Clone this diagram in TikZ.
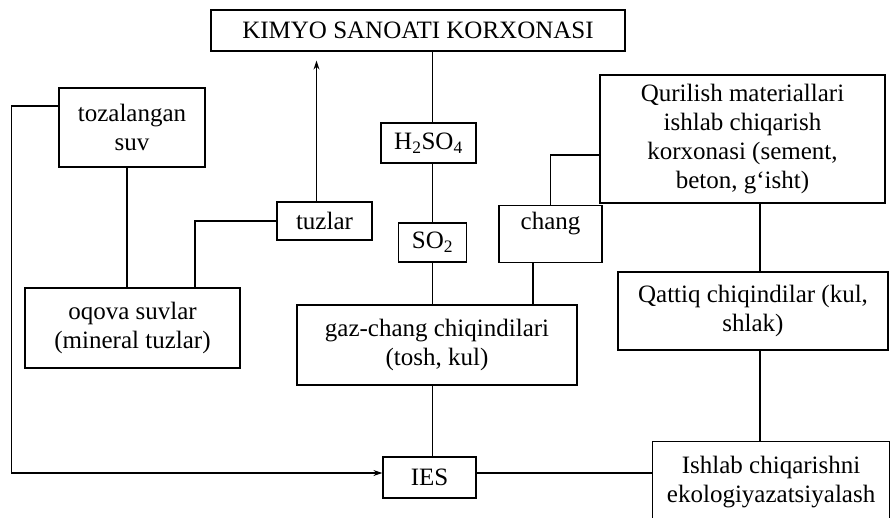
\documentclass[tikz,border=0pt]{standalone}
\usepackage{fontspec}
\setmainfont{Liberation Serif}
\usetikzlibrary{arrows.meta,calc}
\begin{document}
\begin{tikzpicture}[x=1pt,y=-1pt,
  box/.style={draw,line width=1.2pt,rectangle,inner sep=0pt,align=center,font=\fontsize{25}{29}\selectfont},
  conn/.style={line width=1.2pt},
  arr/.style={line width=1.2pt,-{Stealth[length=9pt,width=6pt]}}]
\clip (0,0) rectangle (891,517);
\fill[white] (0,0) rectangle (891,517);
\node[box,minimum width=414pt,minimum height=41pt] (kimyo) at (418,30.5) {KIMYO SANOATI KORXONASI};
\node[box,minimum width=146pt,minimum height=79pt] (toz) at (132,127.5) {tozalangan\\suv};
\node[box,minimum width=95pt,minimum height=40pt] (h2so4) at (428.5,143) {H\textsubscript{2}SO\textsubscript{4}};
\node[box,minimum width=285pt,minimum height=128pt] (qur) at (742.5,139) {Qurilish materiallari\\ishlab chiqarish\\korxonasi (sement,\\beton, g‘isht)};
\node[box,minimum width=95pt,minimum height=38pt] (tuzlar) at (324.5,221) {tuzlar};
\node[box,minimum width=68pt,minimum height=39pt] (so2) at (432.5,242.5) {SO\textsubscript{2}};
\node[box,minimum width=103pt,minimum height=57pt,anchor=north,
  label={[anchor=north,inner sep=0pt,yshift=-7pt,font=\fontsize{25}{29}\selectfont]north:chang}] (chang) at (550.5,205) {};
\node[box,minimum width=215pt,minimum height=80pt] (oqova) at (132.5,328) {oqova suvlar\\(mineral tuzlar)};
\node[box,minimum width=280pt,minimum height=80pt] (gaz) at (437,345) {gaz-chang chiqindilari\\(tosh, kul)};
\node[box,minimum width=270pt,minimum height=78pt] (qattiq) at (753,311) {Qattiq chiqindilar (kul,\\shlak)};
\node[box,minimum width=93pt,minimum height=41pt] (ies) at (429.5,477.5) {IES};
\node[box,minimum width=237pt,minimum height=81pt,anchor=north west] (ishlab) at (652,441) {Ishlab chiqarishni\\ekologiyazatsiyalash};
% left loop to IES
\draw[arr] ([yshift=21.5pt]toz.west) -- ++(-47,0) |- ([yshift=4.5pt]ies.west);
% tozalangan suv -> oqova
\coordinate (ts) at ([xshift=-5pt]toz.south);
\draw[conn] (ts) -- (ts |- oqova.north);
% oqova -> tuzlar
\coordinate (ot) at ([xshift=62.5pt]oqova.north);
\draw[conn] (ot) |- (tuzlar.west);
% tuzlar -> kimyo
\coordinate (tk) at ([xshift=-8pt]tuzlar.north);
\draw[arr,shorten >=9pt] (tk) -- (tk |- kimyo.south);
% central column
\draw[conn] (kimyo.south -| so2.center) -- (h2so4.north -| so2.center);
\draw[conn] (h2so4.south -| so2.center) -- (so2.north);
\draw[conn] (so2.south) -- (gaz.north -| so2.center);
\draw[conn] (gaz.south -| so2.center) -- (ies.north -| so2.center);
% chang
\draw[conn] (chang.north) |- ([yshift=-16pt]qur.west);
\coordinate (cg) at ([xshift=-17.5pt]chang.south);
\draw[conn] (cg) -- (cg |- gaz.north);
% right column
\coordinate (rq) at ([xshift=17.5pt]qur.south);
\draw[conn] (rq) -- (rq |- qattiq.north);
\draw[conn] (rq |- qattiq.south) -- (rq |- ishlab.north);
% IES -> ishlab
\coordinate (ie) at ([yshift=4.5pt]ies.east);
\draw[conn] (ie) -- (ie -| ishlab.west);
\end{tikzpicture}
\end{document}
